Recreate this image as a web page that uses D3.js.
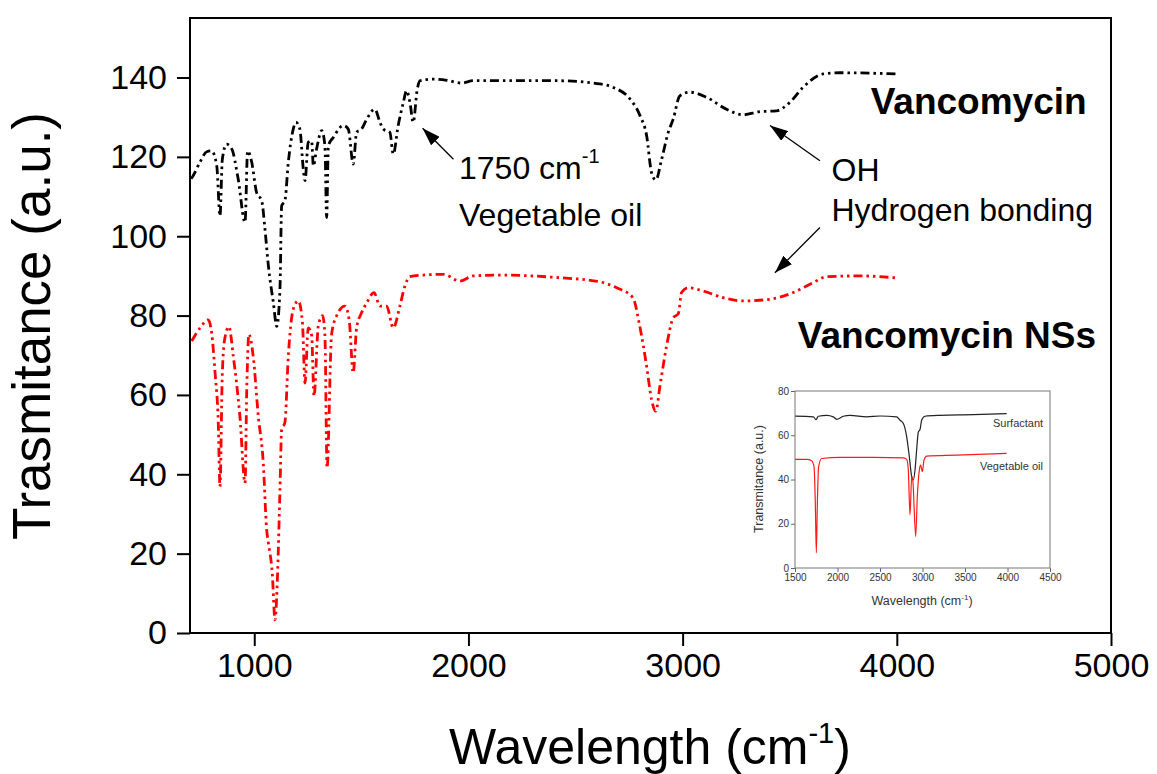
<!DOCTYPE html>
<html>
<head>
<meta charset="utf-8">
<script src="https://cdn.jsdelivr.net/npm/d3@7"></script>
<style>
  html, body { margin: 0; padding: 0; background: #fff; }
  svg { display: block; }
  text { font-family: "Liberation Sans", Arial, sans-serif; }
</style>
</head>
<body>
<svg id="chart" width="1157" height="774"></svg>
<script>
// ---------------- DATA ----------------
// Vancomycin spectrum: [wavenumber (cm-1), transmittance]
const vancomycin = [
  [705,114.5],[714,115.2],[747,118.7],[778,121.3],[801,121.5],[825,117.7],[840,105.1],[851,119.4],
  [871,123.2],[895,122],[925,114.4],[957,103.5],[969,121.5],[988,118.7],[1011,111],[1035,108.9],
  [1050,101.8],[1066,92.5],[1089,83.3],[1105,77.3],[1120,86.6],[1128,107.7],[1143,108.9],[1159,118.6],
  [1182,127],[1195,128.7],[1213,127],[1229,116.9],[1237,114],[1252,123.7],[1268,124],[1276,117.7],
  [1291,122],[1315,126.6],[1330,122.8],[1338,104.7],[1346,122.8],[1369,124.9],[1416,127.9],[1439,127],
  [1462,118.2],[1478,126.2],[1501,127],[1525,129.5],[1563,132],[1587,128.7],[1602,127],[1633,126.2],
  [1649,120.7],[1672,127.9],[1696,133.7],[1711,136.7],[1727,133.7],[1742,128.7],[1761,137],[1774,139.2],
  [1836,139.6],[1900,139.3],[1968,138.6],[2023,139.2],[2178,139.2],[2411,139.2],[2614,138.4],[2676,137.5],
  [2754,134.6],[2801,130.4],[2832,125.3],[2855,116],[2875,114.2],[2902,119.4],[2933,126.2],[2956,129.5],
  [2987,135.4],[3034,136.3],[3112,135],[3205,132],[3283,130.6],[3360,131.4],[3438,131.6],[3500,133.7],
  [3562,137.5],[3656,140.9],[3734,141.2],[3999,140.9]
];
// Vancomycin NSs spectrum
const vancomycinNSs = [
  [708,73.6],[747,76.9],[785,78.9],[801,75.7],[817,65.6],[832,53],[840,36.9],[851,65.6],
  [863,74.4],[882,77.2],[902,69.8],[933,54.6],[957,37.8],[965,61.4],[975,75.3],[995,69.8],
  [1019,54.6],[1042,42.9],[1058,26],[1066,22.7],[1084,15.1],[1097,3.3],[1109,15.1],[1120,36.1],
  [1128,51.3],[1143,53],[1159,69.8],[1182,81.6],[1206,83.7],[1225,78.2],[1237,63],[1252,76.9],
  [1268,75],[1279,59.7],[1299,77.4],[1319,80],[1330,75],[1340,41.6],[1361,75.2],[1384,79.9],
  [1423,82.4],[1443,79],[1462,65.6],[1478,77],[1501,80.7],[1525,83.2],[1559,85.8],[1587,82.4],
  [1618,82.4],[1649,76.9],[1680,82.4],[1703,87.4],[1727,89.8],[1789,90.2],[1882,90.4],[1960,88.7],
  [2023,90],[2147,90.2],[2411,89.6],[2614,88.5],[2692,87],[2768,84.5],[2800,77.3],[2832,67.2],
  [2855,58.8],[2875,55.9],[2894,62.2],[2925,72.3],[2956,79.4],[2980,80.5],[2995,85.8],[3026,87],
  [3096,86.2],[3190,84.5],[3283,83.7],[3407,84.1],[3516,85.8],[3609,88.3],[3672,89.8],[3827,90],
  [3999,89.5]
];
// Inset: surfactant and vegetable oil
const insetSurfactant = [
  [1500,68.6],[1716,68.3],[1747,67.1],[1775,68.6],[1873,69],[1951,68.3],[1990,67.2],[2069,68.6],
  [2147,69],[2343,68.3],[2500,68.7],[2696,68.3],[2735,66.8],[2775,65.3],[2814,59.3],[2845,50.3],
  [2873,41.3],[2892,39.8],[2912,44.3],[2931,53.3],[2951,61.5],[2971,62.6],[2990,66.8],[3029,68.6],
  [3206,69],[3598,69.3],[3990,69.8]
];
const insetVegOil = [
  [1500,49.1],[1637,49.1],[1696,48.5],[1724,45.8],[1739,29.3],[1751,6.8],[1763,29.3],[1778,45.8],
  [1814,49.5],[2029,50],[2422,50],[2775,49.8],[2814,49.1],[2833,44.3],[2853,24],[2873,41.3],
  [2885,40],[2920,14.3],[2939,32.3],[2963,44.3],[2978,46.5],[2998,43.5],[3018,48.8],[3049,50.6],
  [3402,51],[3990,51.8]
];
// Tick values
const xTicks = [1000, 2000, 3000, 4000, 5000];
const yTicks = [0, 20, 40, 60, 80, 100, 120, 140];
const insetXTicks = [1500, 2000, 2500, 3000, 3500, 4000, 4500];
const insetYTicks = [0, 20, 40, 60, 80];
// Series labels (anchor in data coordinates)
const seriesLabels = [
  { text: "Vancomycin", x: 3878, y: 130.8 },
  { text: "Vancomycin NSs", x: 3538, y: 71.9 }
];
// Arrows: from tail to tip, data coordinates
const arrows = [
  { x1: 1930, y1: 119.4, x2: 1786, y2: 127.2 },
  { x1: 3641, y1: 119.0, x2: 3408, y2: 127.9 },
  { x1: 3641, y1: 102.2, x2: 3431, y2: 90.8 }
];

// ---------------- CHART ----------------
const svg = d3.select("#chart");
const x = d3.scaleLinear().domain([700, 5000]).range([190, 1111]);
const y = d3.scaleLinear().domain([0, 155]).range([633, 18]);
const fmt = d3.format("d");

const defs = svg.append("defs");
defs.append("clipPath").attr("id", "plotClip").append("rect")
  .attr("x", 190).attr("y", 18).attr("width", 921).attr("height", 615);
defs.append("marker").attr("id", "arrowHead")
  .attr("viewBox", "0 0 18 12").attr("refX", 18).attr("refY", 6)
  .attr("markerWidth", 18).attr("markerHeight", 12)
  .attr("markerUnits", "userSpaceOnUse").attr("orient", "auto")
  .append("path").attr("d", "M0,0 L18,6 L0,12 Z").attr("fill", "#000");

const line = d3.line().x(d => x(d[0])).y(d => y(d[1])).curve(d3.curveMonotoneX);
const dash = "9,4,2.5,4,2.5,4";

const plot = svg.append("g").attr("clip-path", "url(#plotClip)");
plot.append("path").datum(vancomycin).attr("d", line)
  .attr("fill", "none").attr("stroke", "#000").attr("stroke-width", 2.8)
  .attr("stroke-dasharray", dash);
plot.append("path").datum(vancomycinNSs).attr("d", line)
  .attr("fill", "none").attr("stroke", "#ff0000").attr("stroke-width", 2.8)
  .attr("stroke-dasharray", dash);

// Axes
const yAxis = svg.append("g").attr("transform", "translate(190,0)")
  .call(d3.axisLeft(y).tickValues(yTicks).tickFormat(fmt).tickSize(13).tickSizeOuter(0).tickPadding(10));
const xAxis = svg.append("g").attr("transform", "translate(0,633)")
  .call(d3.axisBottom(x).tickValues(xTicks).tickFormat(fmt).tickSize(13).tickSizeOuter(0).tickPadding(7));
[yAxis, xAxis].forEach(g => {
  g.select(".domain").remove();
  g.selectAll(".tick line").attr("stroke", "#000").attr("stroke-width", 2);
  g.selectAll(".tick text").attr("fill", "#000").style("font-size", "34px")
    .style("font-family", "'Liberation Sans', Arial, sans-serif");
});
// Frame
svg.append("rect").attr("x", 190).attr("y", 18).attr("width", 921).attr("height", 615)
  .attr("fill", "none").attr("stroke", "#000").attr("stroke-width", 2);

// Axis titles
const xt = svg.append("text").attr("x", 650).attr("y", 764).attr("text-anchor", "middle")
  .style("font-size", "50px").attr("fill", "#000");
xt.append("tspan").text("Wavelength (cm");
xt.append("tspan").attr("dy", -21).style("font-size", "29px").text("-1");
xt.append("tspan").attr("dy", 21).text(")");

svg.append("text").attr("transform", "translate(50,326) rotate(-90)")
  .attr("text-anchor", "middle").style("font-size", "53px").attr("fill", "#000")
  .text("Trasmitance (a.u.)");

// Annotations
svg.selectAll(".arrow").data(arrows).enter().append("line").attr("class", "arrow")
  .attr("x1", d => x(d.x1)).attr("y1", d => y(d.y1))
  .attr("x2", d => x(d.x2)).attr("y2", d => y(d.y2))
  .attr("stroke", "#000").attr("stroke-width", 1.3).attr("marker-end", "url(#arrowHead)");

const a1 = svg.append("text").attr("x", x(1956)).attr("y", y(114.4))
  .style("font-size", "32px").attr("fill", "#000");
a1.append("tspan").text("1750 cm");
a1.append("tspan").attr("dy", -16).style("font-size", "20px").text("-1");
svg.append("text").attr("x", x(1956)).attr("y", y(102.6))
  .style("font-size", "32px").attr("fill", "#000").text("Vegetable oil");
svg.append("text").attr("x", x(3695)).attr("y", y(114))
  .style("font-size", "32px").attr("fill", "#000").text("OH");
svg.append("text").attr("x", x(3695)).attr("y", y(103.9))
  .style("font-size", "32px").attr("fill", "#000").text("Hydrogen bonding");

svg.selectAll(".slabel").data(seriesLabels).enter().append("text").attr("class", "slabel")
  .attr("x", d => x(d.x)).attr("y", d => y(d.y))
  .style("font-size", "37px").style("font-weight", "bold").attr("fill", "#000")
  .text(d => d.text);

// ---------------- INSET ----------------
const ix = d3.scaleLinear().domain([1500, 4500]).range([795, 1050]);
const iy = d3.scaleLinear().domain([0, 80]).range([568, 391]);
const inset = svg.append("g");
const iline = d3.line().x(d => ix(d[0])).y(d => iy(d[1])).curve(d3.curveMonotoneX);
inset.append("path").datum(insetSurfactant).attr("d", iline)
  .attr("fill", "none").attr("stroke", "#222").attr("stroke-width", 1.2);
inset.append("path").datum(insetVegOil).attr("d", iline)
  .attr("fill", "none").attr("stroke", "#ff1a1a").attr("stroke-width", 1.2);

const iyAxis = inset.append("g").attr("transform", "translate(795,0)")
  .call(d3.axisLeft(iy).tickValues(insetYTicks).tickFormat(fmt).tickSize(4).tickSizeOuter(0).tickPadding(2));
const ixAxis = inset.append("g").attr("transform", "translate(0,568)")
  .call(d3.axisBottom(ix).tickValues(insetXTicks).tickFormat(fmt).tickSize(4).tickSizeOuter(0).tickPadding(2));
[iyAxis, ixAxis].forEach(g => {
  g.select(".domain").remove();
  g.selectAll(".tick line").attr("stroke", "#666").attr("stroke-width", 1);
  g.selectAll(".tick text").attr("fill", "#333").style("font-size", "10px")
    .style("font-family", "'Liberation Sans', Arial, sans-serif");
});
inset.append("rect").attr("x", 795).attr("y", 391).attr("width", 255).attr("height", 177)
  .attr("fill", "none").attr("stroke", "#777").attr("stroke-width", 1);

const ixt = inset.append("text").attr("x", 922).attr("y", 605).attr("text-anchor", "middle")
  .style("font-size", "12.5px").attr("fill", "#333");
ixt.append("tspan").text("Wavelength (cm");
ixt.append("tspan").attr("dy", -5).style("font-size", "8px").text("-1");
ixt.append("tspan").attr("dy", 5).text(")");
inset.append("text").attr("transform", "translate(763,479) rotate(-90)")
  .attr("text-anchor", "middle").style("font-size", "12.5px").attr("fill", "#333")
  .text("Transmitance (a.u.)");
inset.append("text").attr("x", 993).attr("y", 427).style("font-size", "11px")
  .attr("fill", "#333").text("Surfactant");
inset.append("text").attr("x", 980).attr("y", 470).style("font-size", "11px")
  .attr("fill", "#333").text("Vegetable oil");
</script>
</body>
</html>
